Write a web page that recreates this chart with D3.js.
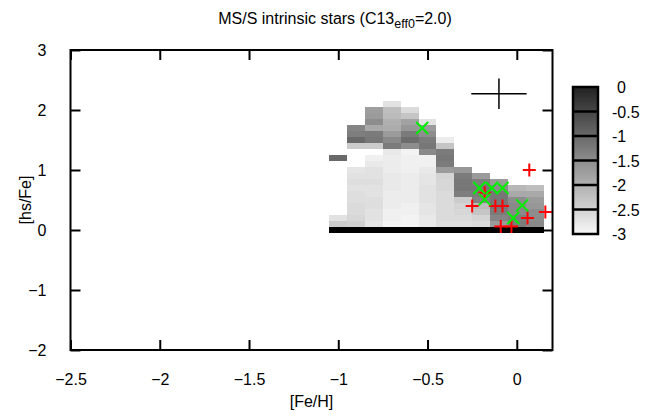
<!DOCTYPE html>
<html>
<head>
<meta charset="utf-8">
<script src="https://cdn.jsdelivr.net/npm/d3@7"></script>
<style>
  body { margin: 0; background: #fff; }
  svg text { font-family: "Liberation Sans", Arial, sans-serif; font-size: 16px; fill: #000; }
</style>
</head>
<body>
<svg id="chart" width="651" height="418"></svg>
<script>
const N = null;

// bin centres of the density map
const FEH_BINS = [-1.0, -0.9, -0.8, -0.7, -0.6, -0.5, -0.4, -0.3, -0.2, -0.1, 0.0, 0.1];
const HS_BINS  = [0.0, 0.1, 0.2, 0.3, 0.4, 0.5, 0.6, 0.7, 0.8, 0.9, 1.0,
                  1.1, 1.2, 1.3, 1.4, 1.5, 1.6, 1.7, 1.8, 1.9, 2.0, 2.1];

// log density, one array per [Fe/H] bin, listed from [hs/Fe]=0.0 upward
const DENSITY = [
  [0.3, -2.4, -2.7, N, N, N, N, N, N, N, N, N, -1.0, N, N, N, N, N, N, N, N, N],
  [0.3, -2.45, -2.55, -2.6, -2.6, -2.65, -2.65, -2.7, -2.65, -2.7, -2.75, N, N, N, -2.4, -1.0, -1.3, -1.4, N, N, N, N],
  [0.3, -2.75, -2.7, -2.7, -2.65, -2.65, -2.7, -2.7, -2.65, -2.7, -2.7, -2.8, -2.9, N, -2.4, -1.2, -1.25, -1.9, -1.5, -1.7, -1.75, N],
  [0.3, -2.95, -2.9, -2.9, -2.85, -2.85, -2.85, -2.8, -2.8, -2.8, -2.85, -2.85, -2.85, -2.8, -1.25, -1.45, -1.7, -1.95, -2.0, -2.15, -2.2, -2.7],
  [0.3, -2.95, -2.95, -2.9, -2.9, -2.85, -2.85, -2.85, -2.85, -2.85, -2.9, -2.9, -2.9, -2.95, -1.5, -1.05, -1.25, -1.65, -1.8, -2.3, -2.6, N],
  [0.3, -2.8, -2.8, -2.75, -2.75, -2.7, -2.7, -2.7, -2.75, -2.75, -2.8, -2.9, -2.9, -1.45, -1.2, -1.25, -1.5, -1.7, -2.7, N, N, N],
  [0.3, -2.65, -2.6, -2.6, -2.6, -2.6, -2.6, -2.55, -2.55, -2.5, -1.7, -1.25, -1.2, -1.25, -2.3, -2.85, N, N, N, N, N, N],
  [0.3, -2.65, -2.6, -2.55, -2.5, -2.4, -1.3, -1.2, -1.2, -1.25, -1.65, N, N, N, N, N, N, N, N, N, N, N],
  [0.3, -2.6, -2.5, -2.3, -2.15, -1.35, -1.25, -1.2, -1.3, -1.7, N, N, N, N, N, N, N, N, N, N, N, N],
  [0.3, -1.7, -1.4, -1.25, -1.2, -1.2, -1.2, -1.5, -1.7, N, N, N, N, N, N, N, N, N, N, N, N, N],
  [0.3, -1.25, -1.3, -1.45, -1.45, -1.5, -1.9, -2.1, N, N, N, N, N, N, N, N, N, N, N, N, N, N],
  [0.3, -1.45, -1.5, -1.5, -1.65, -1.7, -1.9, -2.2, N, N, N, N, N, N, N, N, N, N, N, N, N, N]
];

// observed stars
const RED_FEH   = [0.07, -0.18, -0.25, -0.12, -0.08, -0.09, -0.03, 0.06, 0.16];
const RED_HS    = [1.0, 0.62, 0.4, 0.4, 0.4, 0.06, 0.06, 0.2, 0.3];
const GREEN_FEH = [-0.53, -0.21, -0.14, -0.08, -0.18, 0.03, -0.02];
const GREEN_HS  = [1.7, 0.7, 0.7, 0.7, 0.51, 0.41, 0.2];

// typical error bar
const ERR_FEH = -0.1, ERR_HS = 2.27, ERR_DFEH = 0.155, ERR_DHS = 0.255;

const X_TICKS  = [-2.5, -2, -1.5, -1, -0.5, 0];
const Y_TICKS  = [-2, -1, 0, 1, 2, 3];
const CB_TICKS = [0, -0.5, -1, -1.5, -2, -2.5, -3];

const PLOT = { left: 70.5, right: 552.5, top: 50, bottom: 350 };
const CB   = { left: 573, width: 25, top: 87, bottom: 234 };
const TICK = 10;

const svg = d3.select("#chart");

const x = d3.scaleLinear().domain([-2.5, 0.2]).range([PLOT.left, PLOT.right]);
const y = d3.scaleLinear().domain([-2, 3]).range([PLOT.bottom, PLOT.top]);
const gray = d3.scaleLinear().domain([-3, 0, 0.3]).range(["#f7f7f7", "#222222", "#000000"]).clamp(true);

// density cells
const cells = [];
FEH_BINS.forEach((f, i) => {
  DENSITY[i].forEach((v, j) => {
    if (v !== null) cells.push({ f, h: HS_BINS[j], v });
  });
});

svg.append("g")
  .attr("shape-rendering", "crispEdges")
  .selectAll("rect")
  .data(cells)
  .join("rect")
    .attr("x", d => x(d.f - 0.05))
    .attr("y", d => y(d.h + 0.05))
    .attr("width", d => x(d.f + 0.05) - x(d.f - 0.05))
    .attr("height", d => y(d.h - 0.05) - y(d.h + 0.05))
    .attr("fill", d => gray(d.v));

// red plus markers
svg.append("g")
  .selectAll("path")
  .data(RED_FEH.map((f, i) => [f, RED_HS[i]]))
  .join("path")
    .attr("transform", d => `translate(${x(d[0])},${y(d[1])})`)
    .attr("d", "M-6.5,0H6.5M0,-6.5V6.5")
    .attr("stroke", "#ff0000")
    .attr("stroke-width", 2)
    .attr("fill", "none");

// green cross markers
svg.append("g")
  .selectAll("path")
  .data(GREEN_FEH.map((f, i) => [f, GREEN_HS[i]]))
  .join("path")
    .attr("transform", d => `translate(${x(d[0])},${y(d[1])})`)
    .attr("d", "M-6,-6L6,6M-6,6L6,-6")
    .attr("stroke", "#00ee00")
    .attr("stroke-width", 2)
    .attr("fill", "none");

// error bar cross
const err = svg.append("g").attr("stroke", "#000").attr("stroke-width", 1.5);
err.append("line")
  .attr("x1", x(ERR_FEH - ERR_DFEH)).attr("x2", x(ERR_FEH + ERR_DFEH))
  .attr("y1", y(ERR_HS)).attr("y2", y(ERR_HS));
err.append("line")
  .attr("x1", x(ERR_FEH)).attr("x2", x(ERR_FEH))
  .attr("y1", y(ERR_HS - ERR_DHS)).attr("y2", y(ERR_HS + ERR_DHS));

// axes: inward ticks, mirrored
svg.append("g")
  .attr("transform", `translate(0,${PLOT.bottom})`)
  .call(d3.axisBottom(x).tickValues(X_TICKS).tickSize(-TICK).tickPadding(TICK + 14).tickFormat(d3.format("")))
  .call(ax => ax.select(".domain").remove())
  .call(ax => ax.selectAll("line").attr("stroke-width", 2));
svg.append("g")
  .attr("transform", `translate(0,${PLOT.top})`)
  .call(d3.axisTop(x).tickValues(X_TICKS).tickSize(-TICK).tickFormat(""))
  .call(ax => ax.select(".domain").remove())
  .call(ax => ax.selectAll("line").attr("stroke-width", 2));
svg.append("g")
  .attr("transform", `translate(${PLOT.left},0)`)
  .call(d3.axisLeft(y).tickValues(Y_TICKS).tickSize(-TICK).tickPadding(TICK + 14).tickFormat(d3.format("")))
  .call(ax => ax.select(".domain").remove())
  .call(ax => ax.selectAll("line").attr("stroke-width", 2));
svg.append("g")
  .attr("transform", `translate(${PLOT.right},0)`)
  .call(d3.axisRight(y).tickValues(Y_TICKS).tickSize(-TICK).tickFormat(""))
  .call(ax => ax.select(".domain").remove())
  .call(ax => ax.selectAll("line").attr("stroke-width", 2));

svg.selectAll(".tick text").attr("font-size", 16).attr("font-family", null);

svg.append("rect")
  .attr("x", PLOT.left).attr("y", PLOT.top)
  .attr("width", PLOT.right - PLOT.left).attr("height", PLOT.bottom - PLOT.top)
  .attr("fill", "none").attr("stroke", "#000").attr("stroke-width", 2);

// labels
svg.append("text")
  .attr("x", (PLOT.left + PLOT.right) / 2).attr("y", 407)
  .attr("text-anchor", "middle")
  .text("[Fe/H]");
svg.append("text")
  .attr("transform", `translate(31,${(PLOT.top + PLOT.bottom) / 2}) rotate(-90)`)
  .attr("text-anchor", "middle")
  .text("[hs/Fe]");

const title = svg.append("text")
  .attr("x", 335).attr("y", 24)
  .attr("text-anchor", "middle");
title.append("tspan").text("MS/S intrinsic stars (C13");
title.append("tspan").attr("dy", 4).attr("font-size", 12.5).text("eff0");
title.append("tspan").attr("dy", -4).text("=2.0)");

// colour box
const cb = d3.scaleLinear().domain([-3, 0]).range([CB.bottom, CB.top]);
const grad = svg.append("defs").append("linearGradient")
  .attr("id", "cbgrad").attr("x1", 0).attr("y1", 1).attr("x2", 0).attr("y2", 0);
grad.selectAll("stop")
  .data(d3.range(0, 11).map(k => -3 + k * 0.3))
  .join("stop")
    .attr("offset", d => (d + 3) / 3)
    .attr("stop-color", d => gray(d));

svg.append("rect")
  .attr("x", CB.left).attr("y", CB.top)
  .attr("width", CB.width).attr("height", CB.bottom - CB.top)
  .attr("fill", "url(#cbgrad)");

svg.append("g")
  .selectAll("line")
  .data(CB_TICKS.slice(1, -1))
  .join("line")
    .attr("x1", CB.left).attr("x2", CB.left + CB.width)
    .attr("y1", d => cb(d)).attr("y2", d => cb(d))
    .attr("stroke", "#000").attr("stroke-width", 2.5);

svg.append("rect")
  .attr("x", CB.left).attr("y", CB.top)
  .attr("width", CB.width).attr("height", CB.bottom - CB.top)
  .attr("fill", "none").attr("stroke", "#000").attr("stroke-width", 2.5);

svg.append("g")
  .selectAll("text")
  .data(CB_TICKS)
  .join("text")
    .attr("x", d => d < 0 ? 612 : 617)
    .attr("y", d => cb(d) + 6)
    .text(d => d3.format("")(d).replace("−", "-"));
</script>
</body>
</html>
